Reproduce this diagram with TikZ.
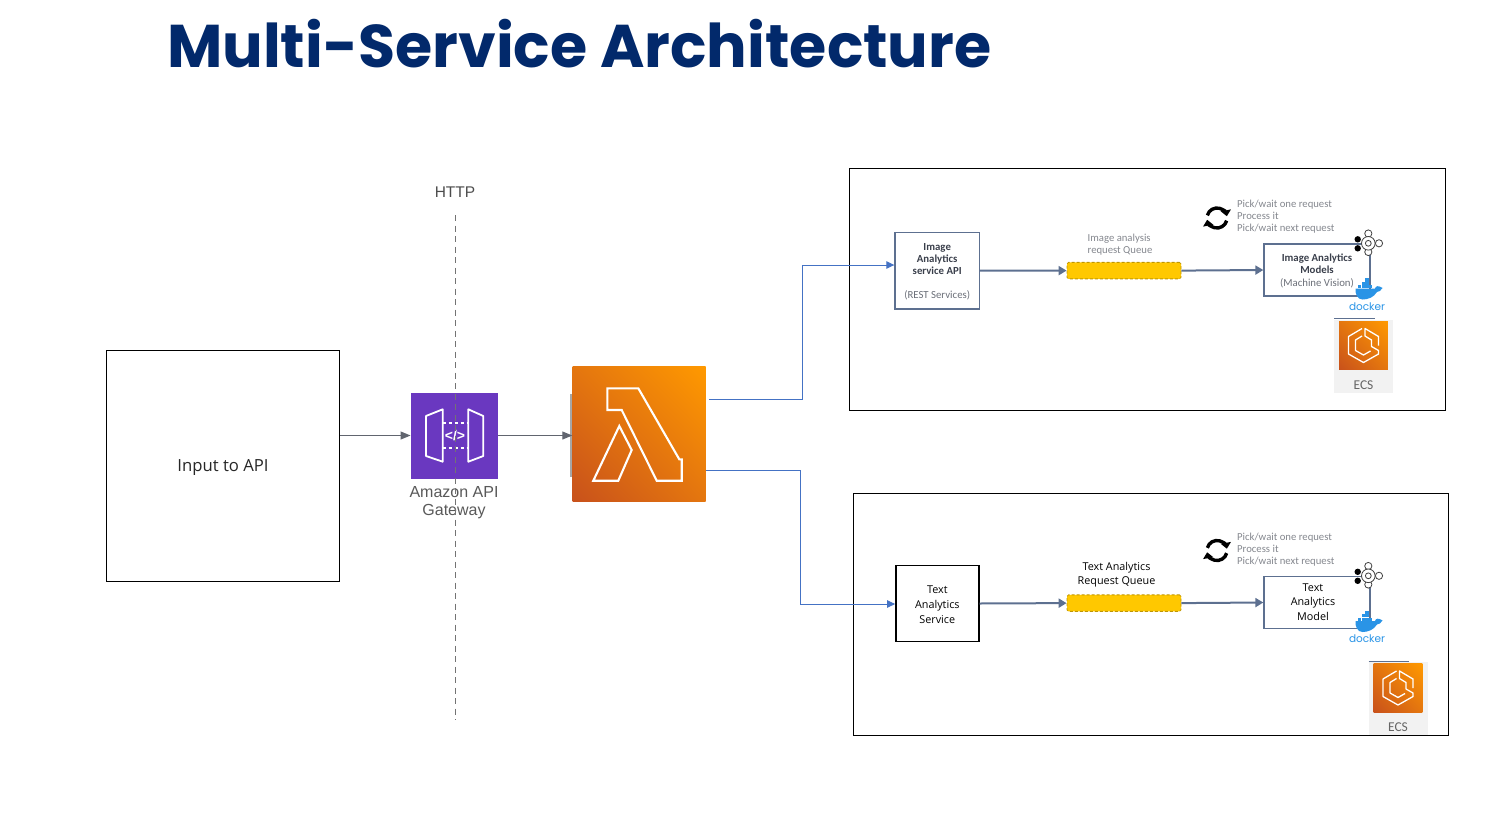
\documentclass[tikz,border=0pt]{standalone}
\usepackage{fontspec}
\setmainfont{Open Sans}
\newfontfamily\titlefont{Poppins}
\newfontfamily\arialfont{Liberation Sans}
\newfontfamily\panelfont{Carlito}
\usetikzlibrary{arrows.meta,shadings}
\definecolor{titleblue}{HTML}{02296B}
\definecolor{slate}{HTML}{5D7090}
\definecolor{linkblue}{HTML}{4472C4}
\definecolor{inkdark}{HTML}{3A3F4B}
\definecolor{inkgrey}{HTML}{84878E}
\definecolor{apipurple}{HTML}{6A38C0}
\definecolor{queuegold}{HTML}{FFC800}
\definecolor{dockerblue}{HTML}{2A94E6}
\definecolor{awslow}{HTML}{C8511B}
\definecolor{awsmid}{HTML}{E4760F}
\definecolor{awshigh}{HTML}{FF9900}
\newcommand{\dropby}[2]{\raisebox{-#1}[\height][\depth]{#2}}
\tikzset{
	thinarrow/.style={draw=inkdark!80,line width=1pt,-{Triangle[length=10pt,width=8pt]}},
	slatearrow/.style={draw=slate,line width=2pt,-{Triangle[length=8pt,width=9pt]}},
	bluelink/.style={draw=linkblue,line width=0.9pt,-{Triangle[length=8pt,width=7.5pt]}},
	panel/.style={draw=black,line width=1pt,fill=none,inner sep=0pt},
	servicebox/.style={draw=slate,line width=1.3pt,inner sep=0pt,align=center,font=\panelfont\fontsize{10.8}{12.5}\selectfont,text=inkdark},
	pale/.style={inner sep=0pt,align=left,text=inkgrey,font=\panelfont\fontsize{10.7}{12}\selectfont},
	plain/.style={inner sep=0pt,align=center,text=black,font=\fontsize{10.8}{14.7}\selectfont},
	awsfill/.style={lower left=awslow,upper right=awshigh,lower right=awsmid,upper left=awsmid,shading=bilinear interpolation},
	icontile/.style={inner sep=0pt,minimum size=48.7pt,awsfill},
}
\begin{document}
\begin{tikzpicture}[x=1pt,y=-1pt]
\useasboundingbox (0,0) rectangle (1486,825);
\node[anchor=base west,inner sep=0pt,text=titleblue,font=\titlefont\bfseries\fontsize{60.3}{60}\selectfont] (title) at (167,67) {Multi-Service Architecture};
% left part
\node[draw=black,line width=1pt,minimum width=233.5pt,minimum height=231pt,inner sep=0pt,font=\fontsize{16.7}{18}\selectfont,text=black!85] (input) at (223,465.5) {\dropby{2pt}{Input to API}};
\node[inner sep=0pt,minimum width=87.5pt,minimum height=86pt,fill=apipurple] (gateway) at (454.5,435.5) {};
\fill[gray!70] (570,394) rectangle (573,477);
\node[inner sep=0pt,minimum width=133pt,minimum height=135pt,awsfill] (lambda) at (639,434) {};
\draw[white,line width=2.1pt,line join=miter] (607.3,388.3) -- (638.3,388.3) -- (679.3,459.3) -- (681.7,459.3) -- (681.7,480.7) -- (656.7,480.7) -- (621.7,410) -- (607.3,410) -- cycle;
\draw[white,line width=2.1pt] (619.3,426) -- (631.7,450) -- (618.3,480.7) -- (593.3,480.7) -- cycle;
\draw[white,line width=1.8pt,line join=round] (426,416) -- (442.7,409.3) -- (442.7,461.7) -- (426,456) -- cycle (468.3,409.3) -- (483.3,416) -- (483.3,456) -- (468.3,461.7) -- cycle;
\draw[white,line width=1.8pt,dash pattern=on 3.5pt off 2.5pt] (442.7,422.7) -- (468.3,422.7) (442.7,448.3) -- (468.3,448.3);
\node[inner sep=0pt,text=white,font=\arialfont\bfseries\fontsize{14}{14}\selectfont] (code) at (455,435.3) {</>};
\node[inner sep=0pt,align=center,text=black!65,font=\arialfont\fontsize{16}{18}\selectfont] (gatewaytext) at (454,502.5) {Amazon API\\Gateway};
\node[inner sep=0pt,text=black!70,font=\arialfont\fontsize{15.5}{18}\selectfont] (http) at (455,192.5) {HTTP};
\coordinate (httptop) at (455.5,215);
\coordinate (httpend) at (455.5,720);
\draw[black!55,line width=1.4pt,dash pattern=on 6pt off 4.5pt] (httptop) -- (httpend);
\draw[thinarrow] (input.east |- gateway) -- (gateway.west);
\draw[thinarrow] (gateway.east) -- (gateway.east -| lambda.west);
% the two panels
\node[panel,minimum width=595.5pt,minimum height=242pt] (panela) at (1147.5,289.8) {};
\node[panel,minimum width=595.5pt,minimum height=242pt] (panelb) at (1151.2,614.8) {};
\node[servicebox,minimum width=84.5pt,minimum height=76.5pt] (imageapi) at (937.2,270.7) {\dropby{1pt}{\textbf{Image}}\\[-0.5pt]\dropby{1pt}{\textbf{Analytics}}\\[-0.5pt]\dropby{1pt}{\textbf{service API}}\\[11.5pt]\dropby{1pt}{\textcolor{inkdark!75}{(REST Services)}}};
\node[servicebox,draw=black,line width=1.4pt,minimum width=83pt,minimum height=76.5pt,text=black,font=\fontsize{10.8}{14.7}\selectfont] (textapi) at (937.3,603.5) {\dropby{1pt}{Text}\\\dropby{1pt}{Analytics}\\\dropby{1pt}{Service}};
\node[servicebox,minimum width=106pt,minimum height=52pt] (imagemodel) at (1317,270) {\dropby{1pt}{\textbf{Image Analytics}}\\\dropby{1pt}{\textbf{Models}}\\[0.5pt]\dropby{1pt}{\textcolor{inkdark!75}{(Machine Vision)}}};
\node[servicebox,minimum width=106pt,minimum height=52pt] (textmodel) at (1317,602.5) {};
\node[plain] (textmodeltext) at (1313,602) {Text\\Analytics\\Model};
\foreach \n/\dy in {a/0,b/332.5}
{
	\node[draw=queuegold!75!black,fill=queuegold,densely dashed,line width=0.8pt,rounded corners=1.5pt,minimum width=114pt,minimum height=16.5pt,inner sep=0pt] (queue\n) at (1124,270.6+\dy) {};
	\node[pale,anchor=north west] (steps\n) at (1237,200+\dy) {Pick/wait one request\\Process it\\Pick/wait next request};
	% refresh arrows
	\draw[black,line width=3.4pt,-{Triangle[length=6pt,width=10pt]}] (1217-9.66,218-2.6+\dy) arc[start angle=195,end angle=350,radius=10];
	\draw[black,line width=3.4pt,-{Triangle[length=6pt,width=10pt]}] (1217+9.66,218+2.6+\dy) arc[start angle=15,end angle=170,radius=10];
	% connector mark
	\foreach \ox/\oy in {1368.3/233.5,1368.3/252,1379/243.3}
		\draw[black!75,fill=white,line width=0.8pt] (\ox,\oy+\dy) circle[radius=3.6];
	\draw[black!75,fill=white,line width=0.8pt] (1368.3,243.3+\dy) circle[radius=6.8];
	\draw[black!75,fill=white,line width=0.8pt] (1368.3,243.3+\dy) circle[radius=2.9];
	\fill[black] (1357.7,239.3+\dy) circle[radius=3.2] (1357.7,248.3+\dy) circle[radius=3.2];
	% docker whale
	\fill[dockerblue] (1355.5,288.5+\dy) -- (1375,288.5+\dy) .. controls (1375.5,285.5+\dy) and (1379,285.5+\dy) .. (1382.5,288+\dy) .. controls (1381,291+\dy) and (1379,291.5+\dy) .. (1377,292+\dy) .. controls (1373.5,297.5+\dy) and (1368,299.5+\dy) .. (1362.5,299.5+\dy) .. controls (1357.5,299.5+\dy) and (1355,294+\dy) .. (1355.5,288.5+\dy) -- cycle;
	\foreach \ox/\oy in {1358/285,1361.7/285,1365.4/285,1369.1/285,1361.7/281.6,1365.4/281.6,1365.4/278.2}
		\fill[dockerblue] (\ox,\oy+\dy) rectangle ++(3.3,3.3);
	\node[inner sep=0pt,text=dockerblue,font=\titlefont\fontsize{10.5}{11}\selectfont] (docker\n) at (1367,306.5+\dy) {docker};
}
\node[pale] (imagequeuetext) at (1120,245) {Image analysis\\request Queue};
\node[plain,font=\fontsize{10.8}{14.7}\selectfont] (textqueuetext) at (1116.5,574.8) {Text Analytics\\Request Queue};
\draw[slatearrow] (imageapi.east) -- (queuea.west);
\draw[slatearrow] (queuea.east) -- (imagemodel.west);
\draw[slatearrow] (textapi.east) -- (queueb.west);
\draw[slatearrow] (queueb.east) -- (textmodel.west);
\coordinate (lambdaouta) at (709,399);
\coordinate (bendb) at (800,604);
\coordinate (benda) at (802,265);
\draw[bluelink] (lambdaouta) -| (benda) -- ([yshift=5.7pt]imageapi.west);
\draw[bluelink] ([yshift=-36pt]lambda.east) -| (bendb) -- (bendb -| textapi.west);
% ECS tiles
\foreach \n/\ex/\ey in {a/1363.5/345.5,b/1398/688}
{
	\begin{scope}[shift={(\ex,\ey)}]
	\fill[black!5] (-29.5,-26) rectangle (29.5,47);
	\draw[slate,line width=0.9pt] (-29.5,-26.7) -- (11,-26.7);
	\node[icontile] (ecs\n) at (0,0) {};
	\draw[white,line width=1.3pt,line join=round] (-1.5,-17) -- (-15,-9) -- (-15,8.5) -- (0,17) -- (15,8.5) -- (15,5) -- (8,1) -- (8,-5.5) -- (1.5,-9.5) -- (1.5,-17) -- (15,-9) -- (15,0);
	\draw[white,line width=1.3pt,line join=round] (-1.5,-9.5) -- (-8,-5.5) -- (-8,5) -- (0,9.5) -- (7,5.5);
	\node[inner sep=0pt,text=black!60,font=\panelfont\fontsize{13.5}{13}\selectfont] (ecstext\n) at (0,39.5) {ECS};
	\end{scope}
}
\end{tikzpicture}
\end{document}
